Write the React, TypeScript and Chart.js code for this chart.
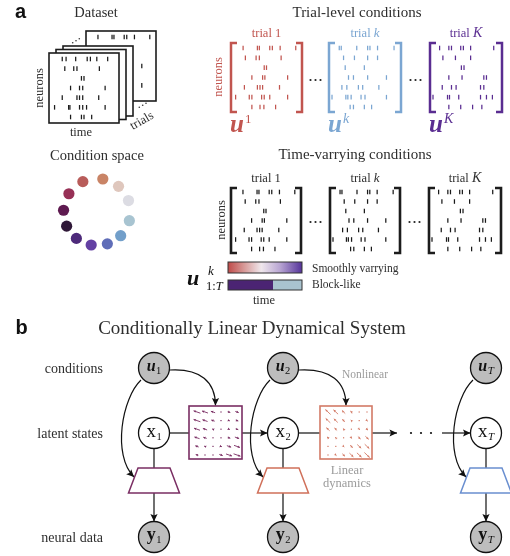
import { useEffect, useRef } from "react";
import { Chart, registerables } from "chart.js";

Chart.register(...registerables);

const W = 510;
const H = 556;
const SERIF = "'Liberation Serif', 'DejaVu Serif', serif";
const SANS = "'Liberation Sans', Arial, sans-serif";
const INK = "#2e2e2e";

// ---------- DATA ----------
// spike rasters: spike times (fraction of trial) for each of 7 neurons
const RASTER_STACK = [
  [0.16, 0.22, 0.37, 0.55, 0.6, 0.7, 0.87],
  [0.2, 0.34, 0.39, 0.74],
  [0.46, 0.5],
  [0.29, 0.43, 0.48, 0.83],
  [0.16, 0.39, 0.43, 0.48, 0.73],
  [0.04, 0.26, 0.28, 0.43, 0.48, 0.54, 0.83],
  [0.29, 0.46, 0.5, 0.62],
];
const RASTER_TRIAL_1 = [
  [0.14, 0.36, 0.39, 0.55, 0.59, 0.71, 0.95],
  [0.175, 0.34, 0.39, 0.725],
  [0.465, 0.5],
  [0.275, 0.44, 0.475, 0.825],
  [0.16, 0.36, 0.4, 0.44, 0.7],
  [0.025, 0.235, 0.275, 0.425, 0.465, 0.55, 0.825],
  [0.275, 0.4, 0.46, 0.64],
];
const RASTER_TRIAL_k = [
  [0.11, 0.14, 0.375, 0.54, 0.575, 0.69, 0.94],
  [0.175, 0.34, 0.54, 0.69],
  [0.2, 0.49],
  [0.25, 0.325, 0.54, 0.825],
  [0.15, 0.225, 0.4, 0.465, 0.71],
  [0.0, 0.21, 0.24, 0.29, 0.44, 0.5, 0.825],
  [0.275, 0.325, 0.49, 0.6],
];
const RASTER_TRIAL_K = [
  [0.1, 0.24, 0.28, 0.42, 0.46, 0.57, 0.92],
  [0.15, 0.34, 0.57],
  [0.43, 0.47],
  [0.24, 0.44, 0.77, 0.81],
  [0.14, 0.28, 0.35, 0.72, 0.77],
  [0.0, 0.22, 0.25, 0.39, 0.72, 0.81, 0.9],
  [0.24, 0.42, 0.6, 0.74],
];
const TRIAL_NAMES = ["1", "k", "K"];
const TRIAL_COLORS = ["#c1554f", "#7ba6d2", "#5a2d91"];

// condition space (clockwise from top), twilight colours
const CONDITION_COLORS = [
  "#c98466", "#dfc7bd", "#dcdce3", "#a8c4d1", "#729fca", "#5f6db8",
  "#6340a3", "#4d2a7a", "#2f1838", "#5e1a50", "#973056", "#b85c5a",
];
const CONDITION_ANGLES = [-80, -50, -20, 15, 45, 72, 100, 128, 155, 183, 213, 245];

// graphical model
const TIME_LABELS = ["1", "2", "T"];
const ROW_LABELS = ["conditions", "latent states", "neural data"];
const READOUT_COLORS = ["#7a2e63", "#d0705a", "#6a8fd0"];
const DYNAMICS_COLORS = ["#7a2e63", "#d37a66"];
// vector-field magnitudes (signed, along the field direction) on a 6x6 grid
const FIELD_1 = [
  [-8, -7, -5, -1, 3, 4],
  [-8, -6, -4, -1, 2, 3],
  [-7, -5, -2, 0, 2, 3],
  [-6, -4, -1, 0, 3, 5],
  [-4, -2, 0, 2, 5, 7],
  [-3, -1, 1, 4, 7, 8],
];
const FIELD_2 = [
  [-8, -7, -5, -3, -1, 1],
  [-7, -6, -4, -2, 0, 2],
  [-5, -4, -2, 0, 2, 3],
  [-3, -2, 0, 2, 4, 5],
  [-1, 0, 2, 4, 6, 7],
  [1, 2, 4, 6, 7, 8],
];
const FIELD_DIRS = [[1, 0.35], [1, 0.95]];

// ---------- LAYOUT ----------
const STACK_FRAMES = [[86, 31], [63, 46], [56, 49.5], [49, 53]]; // back -> front
const STACK_W = 70;
const STACK_H = 70;
const TL_COLS = [[231, 302], [329, 401], [430, 502]];
const TL_TOP = 43, TL_BOT = 112;
const TV_COLS = [[231, 301], [330, 400], [429, 501]];
const TV_TOP = 188, TV_BOT = 253;
const COND_CENTER = [97, 212];
const COND_R = 33.5;
const NODE_X = [154, 283, 486];
const U_Y = 368, X_Y = 433, Y_Y = 537;
const NODE_R = 15.5;
const BOXES = [[189, 406, 242, 459], [320, 406, 372, 459]];
const TRAP_TOP = 468, TRAP_BOT = 493, TRAP_HT = 16, TRAP_HB = 25.5;

type Pt = { x: number; y: number };

function rasterPoints(r: number[][], L: number, R: number, T: number, B: number): Pt[] {
  const pts: Pt[] = [];
  r.forEach((row, i) => {
    const y = T + ((B - T) * i) / (r.length - 1);
    row.forEach((f) => pts.push({ x: L + (R - L) * f, y }));
  });
  return pts;
}

const front = STACK_FRAMES[STACK_FRAMES.length - 1];
const back = STACK_FRAMES[0];
const third = STACK_FRAMES[1];
const stackFrontSpikes = rasterPoints(RASTER_STACK, front[0] + 3, front[0] + STACK_W - 3, front[1] + 6, front[1] + STACK_H - 6);
const stackBackSpikes = rasterPoints(RASTER_TRIAL_1, back[0] + 3, back[0] + STACK_W - 3, back[1] + 6, back[1] + STACK_H - 6)
  .filter((p) => p.x > third[0] + STACK_W + 2.5 || p.y < third[1] - 3);

const TL_RASTERS = [RASTER_TRIAL_1, RASTER_TRIAL_k, RASTER_TRIAL_K];

const serif = (s: number, style = "") => `${style} ${s}px ${SERIF}`.trim();

type Seg = { t: string; f: string; dy?: number; dx?: number };
function rich(ctx: CanvasRenderingContext2D, x: number, y: number, segs: Seg[], align: string, color: string) {
  ctx.fillStyle = color;
  ctx.textAlign = "left";
  ctx.textBaseline = "alphabetic";
  const ws = segs.map((s) => { ctx.font = s.f; return ctx.measureText(s.t).width + (s.dx || 0); });
  const total = ws.reduce((a, b) => a + b, 0);
  let cx = align === "left" ? x : align === "center" ? x - total / 2 : x - total;
  segs.forEach((s, i) => {
    ctx.font = s.f;
    ctx.fillText(s.t, cx + (s.dx || 0), y + (s.dy || 0));
    cx += ws[i];
  });
}

function rotText(ctx: CanvasRenderingContext2D, t: string, x: number, y: number, ang: number, font: string, color: string) {
  ctx.save();
  ctx.translate(x, y);
  ctx.rotate((ang * Math.PI) / 180);
  ctx.font = font;
  ctx.fillStyle = color;
  ctx.textAlign = "center";
  ctx.textBaseline = "middle";
  ctx.fillText(t, 0, 0);
  ctx.restore();
}

function arrowHead(ctx: CanvasRenderingContext2D, x: number, y: number, ang: number, len = 7.5, half = 3.6) {
  ctx.save();
  ctx.translate(x, y);
  ctx.rotate(ang);
  ctx.beginPath();
  ctx.moveTo(0, 0);
  ctx.lineTo(-len, -half);
  ctx.lineTo(-len * 0.8, 0);
  ctx.lineTo(-len, half);
  ctx.closePath();
  ctx.fill();
  ctx.restore();
}

const diagramPlugin = {
  id: "diagram",
  beforeDatasetsDraw(chart: any) {
    const ctx: CanvasRenderingContext2D = chart.ctx;
    const X = (v: number) => chart.scales.x.getPixelForValue(v);
    const Y = (v: number) => chart.scales.y.getPixelForValue(v);
    ctx.save();
    // stacked trial frames
    STACK_FRAMES.forEach(([fx, fy]) => {
      const x0 = X(fx), y0 = Y(fy), w = X(fx + STACK_W) - x0, h = Y(fy + STACK_H) - y0;
      ctx.fillStyle = "#fff";
      ctx.fillRect(x0, y0, w, h);
      ctx.strokeStyle = "#1c1c1c";
      ctx.lineWidth = 1.6;
      ctx.strokeRect(x0, y0, w, h);
    });
    // ellipsis dots
    ctx.fillStyle = "#333";
    [[72.7, 42.7], [76, 40.7], [79.3, 38.7], [139.3, 107.3], [142.7, 105.3], [146, 103.3]].forEach(([x, y]) => {
      ctx.beginPath(); ctx.arc(X(x), Y(y), 0.8, 0, Math.PI * 2); ctx.fill();
    });

    const bracket = (L: number, R: number, T: number, B: number, color: string, lw: number, s: number) => {
      ctx.strokeStyle = color;
      ctx.lineWidth = lw;
      ctx.lineJoin = "miter";
      ctx.lineCap = "butt";
      ctx.beginPath();
      ctx.moveTo(X(L + s), Y(T)); ctx.lineTo(X(L), Y(T)); ctx.lineTo(X(L), Y(B)); ctx.lineTo(X(L + s), Y(B));
      ctx.moveTo(X(R - s), Y(T)); ctx.lineTo(X(R), Y(T)); ctx.lineTo(X(R), Y(B)); ctx.lineTo(X(R - s), Y(B));
      ctx.stroke();
    };
    TL_COLS.forEach(([L, R], i) => bracket(L, R, TL_TOP, TL_BOT, TRIAL_COLORS[i], 2.5, 6));
    TV_COLS.forEach(([L, R]) => bracket(L, R, TV_TOP, TV_BOT, "#1c1c1c", 2.6, 6));
    // ellipses between matrices
    ctx.fillStyle = "#222";
    [[TL_COLS, 80], [TV_COLS, 222]].forEach(([cols, y]: any) => {
      for (let m = 0; m < 2; m++) {
        const mid = (cols[m][1] + cols[m + 1][0]) / 2;
        [-5, 0, 5].forEach((d) => { ctx.beginPath(); ctx.arc(X(mid + d), Y(y), 1.1, 0, Math.PI * 2); ctx.fill(); });
      }
    });

    // condition bars
    const gx0 = X(228), gx1 = X(302);
    const grad = ctx.createLinearGradient(gx0, 0, gx1, 0);
    grad.addColorStop(0, "#bf4b49");
    grad.addColorStop(0.22, "#d79a98");
    grad.addColorStop(0.45, "#efe7ec");
    grad.addColorStop(0.7, "#b9a6d3");
    grad.addColorStop(1, "#55339a");
    ctx.fillStyle = grad;
    ctx.fillRect(gx0, Y(262), gx1 - gx0, Y(273) - Y(262));
    ctx.strokeStyle = "#333"; ctx.lineWidth = 1;
    ctx.strokeRect(gx0, Y(262), gx1 - gx0, Y(273) - Y(262));
    ctx.fillStyle = "#4b2473";
    ctx.fillRect(gx0, Y(280), X(273) - gx0, Y(290) - Y(280));
    ctx.fillStyle = "#a9c3cf";
    ctx.fillRect(X(273), Y(280), gx1 - X(273), Y(290) - Y(280));
    ctx.strokeRect(gx0, Y(280), gx1 - gx0, Y(290) - Y(280));

    // ---- panel b: edges ----
    ctx.strokeStyle = "#111";
    ctx.fillStyle = "#111";
    ctx.lineWidth = 1.2;
    const line = (x0: number, y0: number, x1: number, y1: number, arrow = false) => {
      ctx.beginPath(); ctx.moveTo(X(x0), Y(y0)); ctx.lineTo(X(x1), Y(y1)); ctx.stroke();
      if (arrow) arrowHead(ctx, X(x1), Y(y1), Math.atan2(Y(y1) - Y(y0), X(x1) - X(x0)));
    };
    // horizontal chain
    line(NODE_X[0] + NODE_R, X_Y, BOXES[0][0], X_Y);
    line(BOXES[0][2], X_Y, NODE_X[1] - NODE_R, X_Y, true);
    line(NODE_X[1] + NODE_R, X_Y, BOXES[1][0], X_Y);
    line(BOXES[1][2], X_Y, 397, X_Y, true);
    [411, 421, 431].forEach((d) => { ctx.beginPath(); ctx.arc(X(d), Y(X_Y), 1.1, 0, Math.PI * 2); ctx.fill(); });
    line(442, X_Y, NODE_X[2] - NODE_R, X_Y, true);
    // verticals
    NODE_X.forEach((nx) => {
      line(nx, X_Y + NODE_R, nx, TRAP_TOP);
      line(nx, TRAP_BOT, nx, Y_Y - NODE_R, true);
    });
    // curved arrows
    const curve = (p: number[][]) => {
      ctx.beginPath();
      ctx.moveTo(X(p[0][0]), Y(p[0][1]));
      ctx.bezierCurveTo(X(p[1][0]), Y(p[1][1]), X(p[2][0]), Y(p[2][1]), X(p[3][0]), Y(p[3][1]));
      ctx.stroke();
      arrowHead(ctx, X(p[3][0]), Y(p[3][1]), Math.atan2(Y(p[3][1]) - Y(p[2][1]), X(p[3][0]) - X(p[2][0])));
    };
    NODE_X.forEach((cx) => {
      curve([[cx - 13, 380], [cx - 32, 398], [cx - 42, 455], [cx - 20, 477]]);
    });
    BOXES.forEach((b, i) => {
      const bx = (b[0] + b[2]) / 2;
      const cx = NODE_X[i];
      curve([[cx + NODE_R, 370], [bx - 15, 368], [bx, 382], [bx, b[1] - 0.5]]);
    });
    // dynamics boxes
    BOXES.forEach((b, i) => {
      ctx.fillStyle = "#fff";
      ctx.fillRect(X(b[0]), Y(b[1]), X(b[2]) - X(b[0]), Y(b[3]) - Y(b[1]));
      ctx.strokeStyle = DYNAMICS_COLORS[i];
      ctx.lineWidth = 1.6;
      ctx.strokeRect(X(b[0]), Y(b[1]), X(b[2]) - X(b[0]), Y(b[3]) - Y(b[1]));
    });
    // readout trapezoids
    NODE_X.forEach((nx, i) => {
      ctx.strokeStyle = READOUT_COLORS[i];
      ctx.lineWidth = 1.5;
      ctx.fillStyle = "#fff";
      ctx.beginPath();
      ctx.moveTo(X(nx - TRAP_HT), Y(TRAP_TOP));
      ctx.lineTo(X(nx + TRAP_HT), Y(TRAP_TOP));
      ctx.lineTo(X(nx + TRAP_HB), Y(TRAP_BOT));
      ctx.lineTo(X(nx - TRAP_HB), Y(TRAP_BOT));
      ctx.closePath();
      ctx.fill();
      ctx.stroke();
    });
    // quiver fields
    [FIELD_1, FIELD_2].forEach((field, bi) => {
      const b = BOXES[bi];
      const d = FIELD_DIRS[bi];
      const n = Math.hypot(d[0], d[1]);
      const ux = d[0] / n, uy = d[1] / n;
      ctx.strokeStyle = DYNAMICS_COLORS[bi];
      ctx.fillStyle = DYNAMICS_COLORS[bi];
      ctx.lineWidth = 0.9;
      field.forEach((row, r) => {
        row.forEach((m, c) => {
          const cx = X(b[0] + 8 + ((b[2] - b[0] - 13) * c) / (row.length - 1));
          const cy = Y(b[1] + 6 + ((b[3] - b[1] - 10) * r) / (field.length - 1));
          const len = Math.abs(m) * 0.9;
          const s = m < 0 ? -1 : 1;
          if (len < 1) { ctx.fillRect(cx - 0.6, cy - 0.6, 1.2, 1.2); return; }
          const tx = cx + (s * ux * len) / 2, ty = cy + (s * uy * len) / 2;
          ctx.beginPath();
          ctx.moveTo(cx - (s * ux * len) / 2, cy - (s * uy * len) / 2);
          ctx.lineTo(tx, ty);
          ctx.stroke();
          arrowHead(ctx, tx, ty, Math.atan2(s * uy, s * ux), 2.4, 1.3);
        });
      });
    });
    ctx.restore();
  },
  afterDatasetsDraw(chart: any) {
    const ctx: CanvasRenderingContext2D = chart.ctx;
    const X = (v: number) => chart.scales.x.getPixelForValue(v);
    const Y = (v: number) => chart.scales.y.getPixelForValue(v);
    ctx.save();
    // panel letters
    ctx.font = `bold 20px ${SANS}`;
    ctx.fillStyle = "#111";
    ctx.textAlign = "center";
    ctx.textBaseline = "alphabetic";
    ctx.fillText("a", X(20.5), Y(17.5));
    ctx.fillText("b", X(21.5), Y(334));

    // panel a titles
    rich(ctx, X(96), Y(17), [{ t: "Dataset", f: serif(14.5) }], "center", INK);
    rich(ctx, X(357), Y(17), [{ t: "Trial-level conditions", f: serif(15) }], "center", INK);
    rich(ctx, X(97), Y(159.5), [{ t: "Condition space", f: serif(14.5) }], "center", INK);
    rich(ctx, X(355), Y(159), [{ t: "Time-varrying conditions", f: serif(15) }], "center", INK);

    // dataset stack labels
    rotText(ctx, "neurons", X(40), Y(88), -90, serif(12.5), INK);
    rich(ctx, X(81), Y(136), [{ t: "time", f: serif(12.5) }], "center", INK);
    rotText(ctx, "trials", X(142), Y(121), -30, serif(12.5), INK);

    // trial-level labels
    TL_COLS.forEach(([L, R], i) => {
      const name = TRIAL_NAMES[i];
      const segs: Seg[] = [{ t: "trial ", f: serif(12.5) }];
      segs.push({ t: name, f: name === "1" ? serif(12.5) : serif(i === 2 ? 14 : 13, "italic") });
      rich(ctx, X((L + R) / 2), Y(37), segs, "center", TRIAL_COLORS[i]);
      const supT = name === "1" ? "1" : name;
      rich(ctx, X(L - 1), Y(132), [
        { t: "u", f: serif(25, "bold italic") },
        { t: supT, f: serif(name === "1" ? 13 : 14, name === "1" ? "" : "italic"), dy: -9, dx: 1 },
      ], "left", TRIAL_COLORS[i]);
    });
    rotText(ctx, "neurons", X(219), Y(77), -90, serif(12.5), TRIAL_COLORS[0]);

    // time-varying labels
    TV_COLS.forEach(([L, R], i) => {
      const name = TRIAL_NAMES[i];
      const segs: Seg[] = [{ t: "trial ", f: serif(12.5) }];
      segs.push({ t: name, f: name === "1" ? serif(12.5) : serif(i === 2 ? 14 : 13, "italic") });
      rich(ctx, X((L + R) / 2), Y(181.5), segs, "center", INK);
    });
    rotText(ctx, "neurons", X(222), Y(220), -90, serif(12.5), INK);
    rich(ctx, X(312), Y(272), [{ t: "Smoothly varrying", f: serif(11.5) }], "left", INK);
    rich(ctx, X(312), Y(288), [{ t: "Block-like", f: serif(11.5) }], "left", INK);
    rich(ctx, X(264), Y(304), [{ t: "time", f: serif(12.5) }], "center", INK);
    // u^k_{1:T}
    rich(ctx, X(187), Y(285), [{ t: "u", f: serif(22, "bold italic") }], "left", "#111");
    rich(ctx, X(208), Y(275), [{ t: "k", f: serif(13, "italic") }], "left", "#111");
    rich(ctx, X(206), Y(289.5), [{ t: "1:", f: serif(12.5) }, { t: "T", f: serif(12.5, "italic") }], "left", "#111");

    // panel b
    rich(ctx, X(252), Y(334), [{ t: "Conditionally Linear Dynamical System", f: serif(19) }], "center", INK);
    [U_Y, X_Y, Y_Y].forEach((ry, i) => {
      rich(ctx, X(103), Y(ry + 5), [{ t: ROW_LABELS[i], f: serif(14) }], "right", INK);
    });
    NODE_X.forEach((nx, i) => {
      const sub = TIME_LABELS[i];
      const subF = sub === "T" ? serif(11, "italic") : serif(10.5);
      rich(ctx, X(nx), Y(U_Y + 3), [{ t: "u", f: serif(16, "bold italic") }, { t: sub, f: subF, dy: 2.5, dx: 0.5 }], "center", "#111");
      rich(ctx, X(nx), Y(X_Y + 4), [{ t: "x", f: serif(19) }, { t: sub, f: subF, dy: 2.5, dx: 0.5 }], "center", "#111");
      rich(ctx, X(nx), Y(Y_Y + 3), [{ t: "y", f: serif(18, "bold") }, { t: sub, f: subF, dy: 3, dx: 0.5 }], "center", "#111");
    });
    rich(ctx, X(365), Y(378), [{ t: "Nonlinear", f: serif(11.5) }], "center", "#9b9b9b");
    rich(ctx, X(347), Y(474), [{ t: "Linear", f: serif(12.5) }], "center", "#9b9b9b");
    rich(ctx, X(347), Y(487), [{ t: "dynamics", f: serif(12.5) }], "center", "#9b9b9b");
    ctx.restore();
  },
};

const spikeStyle = (color: string) => ({
  pointStyle: "line" as const,
  pointRotation: 90,
  pointRadius: 2.3,
  pointBorderWidth: 1.25,
  pointBorderColor: color,
  pointBackgroundColor: color,
  order: 2,
});

export default function App() {
  const ref = useRef<HTMLCanvasElement>(null);
  useEffect(() => {
    document.body.style.margin = "0";
    const datasets: any[] = [];
    datasets.push({ label: "stack", data: [...stackBackSpikes, ...stackFrontSpikes], ...spikeStyle("#1a1a1a") });
    TL_COLS.forEach(([L, R], i) => {
      datasets.push({ label: "trial " + TRIAL_NAMES[i], data: rasterPoints(TL_RASTERS[i], L + 3, R - 3, TL_TOP + 5, TL_BOT - 5), ...spikeStyle(TRIAL_COLORS[i]) });
    });
    datasets.push({
      label: "time-varying",
      data: TV_COLS.flatMap(([L, R], i) => rasterPoints(TL_RASTERS[i], L + 3, R - 3, TV_TOP + 4, TV_BOT - 4)),
      ...spikeStyle("#1a1a1a"),
    });
    datasets.push({
      label: "conditions",
      data: CONDITION_ANGLES.map((a) => ({
        x: COND_CENTER[0] + COND_R * Math.cos((a * Math.PI) / 180),
        y: COND_CENTER[1] + COND_R * Math.sin((a * Math.PI) / 180),
      })),
      pointRadius: 5.6,
      pointBorderWidth: 0,
      pointBackgroundColor: CONDITION_COLORS,
      order: 1,
    });
    const nodes: Pt[] = [];
    const fills: string[] = [];
    NODE_X.forEach((nx) => {
      nodes.push({ x: nx, y: U_Y }); fills.push("#bdbdbd");
      nodes.push({ x: nx, y: X_Y }); fills.push("#ffffff");
      nodes.push({ x: nx, y: Y_Y }); fills.push("#bdbdbd");
    });
    datasets.push({
      label: "nodes",
      data: nodes,
      pointRadius: NODE_R,
      pointBorderWidth: 1.3,
      pointBorderColor: "#111",
      pointBackgroundColor: fills,
      order: 0,
      clip: false,
    });

    const chart = new Chart(ref.current!, {
      type: "scatter",
      data: { datasets },
      options: {
        animation: false,
        responsive: false,
        events: [],
        layout: { padding: 0, autoPadding: false },
        plugins: { legend: { display: false }, tooltip: { enabled: false }, title: { display: false } },
        scales: {
          x: { type: "linear", min: 0, max: W, display: false },
          y: { type: "linear", min: 0, max: H, reverse: true, display: false },
        },
      },
      plugins: [diagramPlugin],
    });
    return () => chart.destroy();
  }, []);
  return (
    <div style={{ width: W, height: H, position: "absolute", left: 0, top: 0 }}>
      <canvas ref={ref} width={W} height={H} style={{ width: W, height: H, display: "block" }} />
    </div>
  );
}
